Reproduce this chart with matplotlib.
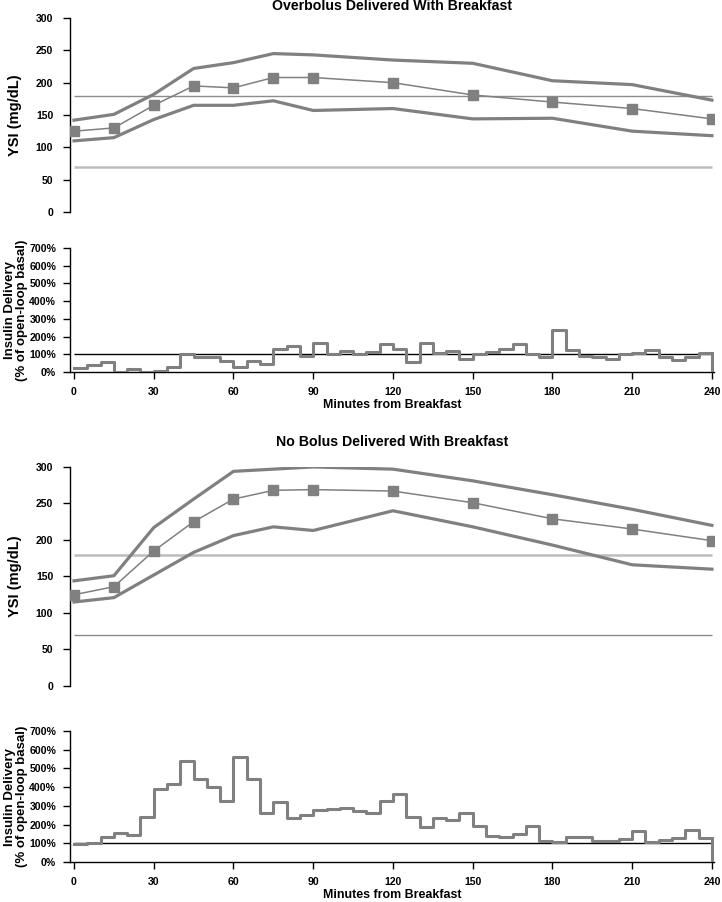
import matplotlib
matplotlib.use("Agg")
import matplotlib.pyplot as plt
from matplotlib import font_manager
from matplotlib.ticker import FuncFormatter

# ---------------- data ----------------
ysi_times = [0, 15, 30, 45, 60, 75, 90, 120, 150, 180, 210, 240]

over_mean = [125, 130, 165, 195, 192, 208, 208, 200, 181, 170, 160, 144]
over_upper = [142, 151, 182, 222, 231, 245, 243, 235, 230, 203, 197, 173]
over_lower = [110, 115, 143, 165, 165, 172, 157, 160, 144, 145, 125, 118]

nobolus_mean = [125, 136, 185, 225, 256, 268, 269, 267, 251, 229, 215, 199]
nobolus_upper = [144, 151, 217, 256, 294, 297, 300, 297, 281, 262, 242, 220]
nobolus_lower = [115, 121, 152, 183, 206, 218, 213, 240, 218, 193, 166, 160]

insulin_edges = list(range(0, 245, 5))  # 0..240 step 5

over_insulin = [23, 40, 58, 1, 17, 0, 6, 29, 100, 83, 83, 63,
                29, 63, 44, 131, 148, 90, 162, 102, 121, 102, 113, 156,
                127, 59, 163, 108, 118, 76, 104, 114, 127, 159, 104, 86,
                237, 122, 92, 84, 76, 104, 108, 124, 84, 65, 84, 108]

nobolus_insulin = [95, 101, 135, 156, 143, 239, 390, 416, 542, 444, 402, 324,
                   559, 444, 263, 320, 235, 252, 276, 283, 288, 271, 260, 327,
                   364, 243, 189, 235, 224, 260, 195, 139, 135, 152, 191, 113,
                   105, 132, 132, 111, 111, 125, 164, 105, 120, 128, 169, 127]

titles = ["Overbolus Delivered With Breakfast", "No Bolus Delivered With Breakfast"]
glucose_label = "YSI (mg/dL)"
insulin_label = "Insulin Delivery\n(% of open-loop basal)"
minutes_label = "Minutes from Breakfast"
glucose_ticks = [0, 50, 100, 150, 200, 250, 300]
insulin_ticks = [0, 100, 200, 300, 400, 500, 600, 700]
minute_ticks = [0, 30, 60, 90, 120, 150, 180, 210, 240]
low_threshold = 70
high_threshold = 180
basal_level = 100

# ---------------- style ----------------
GRAY = "#808080"
DARK_TH = "#8c8c8c"
LIGHT_TH = "#bdbdbd"

_names = {f.name for f in font_manager.fontManager.ttflist}
if "Liberation Sans Narrow" in _names:
    NARROW = ["Liberation Sans Narrow", "DejaVu Sans"]
    nscale = 1.12
else:
    NARROW = ["Liberation Sans", "DejaVu Sans"]
    nscale = 1.0
SANS = ["Liberation Sans", "DejaVu Sans"]

TICK_FS = 7.6 * nscale
TITLE_FS = 10.2 * nscale
XLAB_FS = 8.9 * nscale

fig = plt.figure(figsize=(7.22, 9.02), dpi=100)

L, R = 0.097, 0.989
AXW_PX = (R - L) * 722
panels = [
    dict(g=(0.765, 0.980), i=(0.5876, 0.7250), mean=over_mean, up=over_upper,
         lo=over_lower, ins=over_insulin, title=titles[0],
         th_styles=[(low_threshold, LIGHT_TH, 1.8), (high_threshold, DARK_TH, 1.0)],
         title_y=1 - 6.5 / 902, xlab_y=1 - 405 / 902),
    dict(g=(0.2395, 0.4823), i=(0.0443, 0.1896), mean=nobolus_mean, up=nobolus_upper,
         lo=nobolus_lower, ins=nobolus_insulin, title=titles[1],
         th_styles=[(low_threshold, DARK_TH, 1.0), (high_threshold, LIGHT_TH, 1.8)],
         title_y=1 - 442 / 902, xlab_y=1 - 895 / 902),
]

XMIN, XMAX = -1.5, 240.8
cx = (L + R) / 2

for p in panels:
    # glucose axes
    g0, g1 = p["g"]
    ax = fig.add_axes([L, g0, R - L, g1 - g0])
    ax.set_xlim(XMIN, XMAX)
    ax.set_ylim(0, 300)
    for val, col, lw in p["th_styles"]:
        ax.hlines(val, 0, 240, colors=col, linewidth=lw, zorder=1)
    ax.plot(ysi_times, p["up"], color=GRAY, linewidth=2.3, zorder=2)
    ax.plot(ysi_times, p["lo"], color=GRAY, linewidth=2.3, zorder=2)
    ax.plot(ysi_times, p["mean"], color=GRAY, linewidth=1.1, marker="s",
            markersize=6.8, zorder=3)
    for s in ["top", "right", "bottom"]:
        ax.spines[s].set_visible(False)
    ax.spines["left"].set_linewidth(1.0)
    ax.set_xticks([])
    ax.set_yticks(glucose_ticks)
    ax.tick_params(axis="y", direction="out", length=5, width=1, pad=7)
    for t in ax.get_yticklabels():
        t.set_fontfamily(NARROW)
        t.set_fontweight("bold")
        t.set_fontsize(TICK_FS)
    ax.set_ylabel(glucose_label, fontfamily=SANS, fontweight="bold", fontsize=10.5)
    ax.yaxis.set_label_coords((22 - 70) / AXW_PX, 0.5)
    fig.text(cx, p["title_y"], p["title"], ha="center", va="center",
             fontfamily=NARROW, fontweight="bold", fontsize=TITLE_FS)

    # insulin axes
    i0, i1 = p["i"]
    bx = fig.add_axes([L, i0, R - L, i1 - i0])
    bx.set_xlim(XMIN, XMAX)
    bx.set_ylim(0, 700)
    vals = p["ins"]
    xs = insulin_edges
    ys = list(vals) + [vals[-1]]
    bx.step(xs, ys, where="post", color=GRAY, linewidth=2.2, zorder=3)
    bx.vlines(xs[-1], 0, vals[-1], colors=GRAY, linewidth=2.2, zorder=3)
    bx.hlines(basal_level, 0, 240, colors="black", linewidth=1.0, zorder=2)
    for s in ["top", "right"]:
        bx.spines[s].set_visible(False)
    bx.spines["left"].set_linewidth(1.0)
    bx.spines["bottom"].set_linewidth(1.0)
    bx.set_yticks(insulin_ticks)
    bx.yaxis.set_major_formatter(FuncFormatter(lambda v, _: f"{v:.0f}%"))
    bx.set_xticks(minute_ticks)
    bx.tick_params(axis="both", direction="out", length=5, width=1)
    bx.tick_params(axis="y", pad=5)
    bx.tick_params(axis="x", pad=6)
    for t in bx.get_yticklabels() + bx.get_xticklabels():
        t.set_fontfamily(NARROW)
        t.set_fontweight("bold")
        t.set_fontsize(TICK_FS)
    bx.set_ylabel(insulin_label, fontfamily=SANS, fontweight="bold", fontsize=9.5,
                  linespacing=0.95)
    bx.yaxis.set_label_coords((28 - 70) / AXW_PX, 0.5)
    fig.text(cx, p["xlab_y"], minutes_label, ha="center", va="center",
             fontfamily=NARROW, fontweight="bold", fontsize=XLAB_FS)

fig.savefig("out.png", dpi=100)
